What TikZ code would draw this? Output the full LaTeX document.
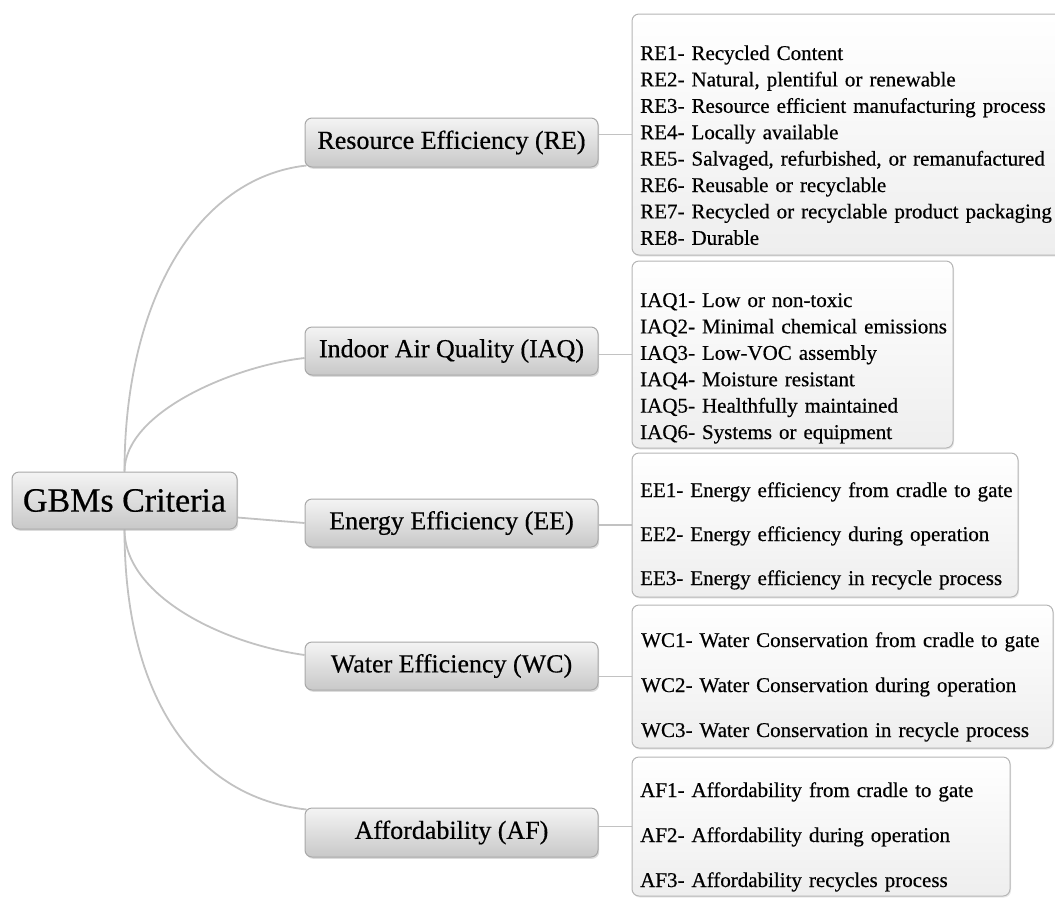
\documentclass[tikz,border=0pt]{standalone}
\usepackage{fontspec}
\setmainfont[FakeBold=0.5]{Liberation Serif}
\usetikzlibrary{shadows,backgrounds}
\definecolor{boxtop}{HTML}{F4F4F4}
\definecolor{boxbot}{HTML}{C8C8C8}
\definecolor{boxborder}{HTML}{A8A8A8}
\definecolor{dettop}{HTML}{FFFFFF}
\definecolor{detbot}{HTML}{EEEEEE}
\definecolor{detborder}{HTML}{B5B5B5}
\definecolor{conngray}{HTML}{C2C2C2}
\begin{document}
\begin{tikzpicture}[x=1pt,y=-1pt,
  mainbox/.style={draw=boxborder, line width=1pt, rounded corners=7pt,
    top color=boxtop, bottom color=boxbot, inner sep=0pt,
    drop shadow={shadow xshift=1.2pt, shadow yshift=-1.8pt, fill=black!30, opacity=.45},
    font=\fontsize{26}{30}\selectfont},
  rootbox/.style={mainbox, font=\fontsize{34}{40}\selectfont},
  detbox/.style={draw=detborder, line width=1pt, rounded corners=7pt,
    top color=dettop, bottom color=detbot, inner sep=0pt,
    drop shadow={shadow xshift=1pt, shadow yshift=-1.5pt, fill=black!25, opacity=.35}},
  dettext/.style={anchor=base west, inner sep=0pt, align=left, text width=420pt},
  conn/.style={draw=conngray, line width=1.8pt}
]
\useasboundingbox (0,0) rectangle (1055,898);
\clip (0,0) rectangle (1055,898);

% main nodes
\node[rootbox, minimum width=225pt, minimum height=57pt] (root) at (124.5,500.5) {GBMs Criteria};
\node[mainbox, minimum width=293pt, minimum height=49pt] (RE) at (451.5,142.5) {Resource Efficiency (RE)};
\node[mainbox, minimum width=293pt, minimum height=48pt] (IAQ) at (451.5,351) {Indoor Air Quality (IAQ)};
\node[mainbox, minimum width=293pt, minimum height=48pt] (EE) at (451.5,523) {Energy Efficiency (EE)};
\node[mainbox, minimum width=293pt, minimum height=48pt] (WC) at (451.5,666) {Water Efficiency (WC)};
\node[mainbox, minimum width=293pt, minimum height=49pt] (AF) at (451.5,832.5) {Affordability (AF)};

% detail boxes
\node[detbox, minimum width=433pt, minimum height=241pt] (REd) at (848.5,134.5) {};
\node[detbox, minimum width=321pt, minimum height=187pt] (IAQd) at (792.5,354.5) {};
\node[detbox, minimum width=386pt, minimum height=144pt] (EEd) at (825,525) {};
\node[detbox, minimum width=421pt, minimum height=143pt] (WCd) at (842.5,676.5) {};
\node[detbox, minimum width=378pt, minimum height=139pt] (AFd) at (821,826.5) {};

% detail texts
\node[dettext, font=\fontsize{21}{26.4}\selectfont] (REt) at (640,60) {RE1- Recycled Content\\
RE2- Natural, plentiful or renewable\\
RE3- Resource efficient manufacturing process\\
RE4- Locally available\\
RE5- Salvaged, refurbished, or remanufactured\\
RE6- Reusable or recyclable\\
RE7- Recycled or recyclable product packaging\\
RE8- Durable};
\node[dettext, font=\fontsize{21}{26.4}\selectfont] (IAQt) at (640,307) {IAQ1- Low or non-toxic\\
IAQ2- Minimal chemical emissions\\
IAQ3- Low-VOC assembly\\
IAQ4- Moisture resistant\\
IAQ5- Healthfully maintained\\
IAQ6- Systems or equipment};
\node[dettext, font=\fontsize{21}{44}\selectfont] (EEt) at (640,497) {EE1- Energy efficiency from cradle to gate\\
EE2- Energy efficiency during operation\\
EE3- Energy efficiency in recycle process};
\node[dettext, font=\fontsize{21}{45}\selectfont] (WCt) at (641,647) {WC1- Water Conservation from cradle to gate\\
WC2- Water Conservation during operation\\
WC3- Water Conservation in recycle process};
\node[dettext, font=\fontsize{21}{45}\selectfont] (AFt) at (640,797) {AF1- Affordability from cradle to gate\\
AF2- Affordability during operation\\
AF3- Affordability recycles process};

% connectors
\begin{pgfonlayer}{background}
\draw[conn] (root.north) .. controls +(0,-170) and +(-110,12) .. ([xshift=2pt,yshift=2pt]RE.south west);
\draw[conn] (root.north) .. controls +(0,-60) and +(-70,8) .. ([yshift=-7pt]IAQ.west);
\draw[conn] ([yshift=-17pt]root.east) -- (EE.west);
\draw[conn] (root.south) .. controls +(0,65) and +(-85,-12) .. ([yshift=11pt]WC.west);
\draw[conn] (root.south) .. controls +(0,170) and +(-110,-12) .. ([xshift=2pt,yshift=-2pt]AF.north west);
\draw[conn] (RE.east |- REd.west) -- (REd.west);
\draw[conn] (IAQ.east |- IAQd.west) -- (IAQd.west);
\draw[conn] (EE.east |- EEd.west) -- (EEd.west);
\draw[conn] (WC.east |- WCd.west) -- (WCd.west);
\draw[conn] (AF.east |- AFd.west) -- (AFd.west);
\end{pgfonlayer}
\end{tikzpicture}
\end{document}
